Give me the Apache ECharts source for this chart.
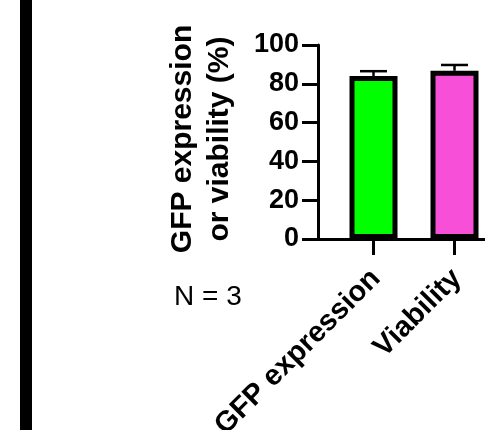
<!DOCTYPE html>
<html>
<head>
<meta charset="utf-8">
<script src="https://cdn.jsdelivr.net/npm/echarts@6/dist/echarts.min.js"></script>
<style>html,body{margin:0;padding:0;background:#fff;}#c{width:485px;height:430px;}</style>
</head>
<body>
<div id="c"></div>
<script>
const categories = ['GFP expression', 'Viability'];
const means = [84, 86.7];
const sds = [2.5, 3.0];
const barColors = ['#00FF00', '#F74FD8'];
const yTicks = { min: 0, max: 100, interval: 20 };
const yTitle = 'GFP expression\nor viability (%)';
const note = 'N = 3';

const FONT = 'Liberation Sans, Arial, sans-serif';
const chart = echarts.init(document.getElementById('c'), null, { renderer: 'canvas' });

const gridTop = 45, gridBottom = 191;
const option = {
  animation: false,
  backgroundColor: '#fff',
  grid: [
    { left: 333, right: -10, top: gridTop, bottom: gridBottom, containLabel: false, outerBoundsMode: 'none' },
    { left: 318, width: 15, top: gridTop, bottom: gridBottom, containLabel: false, outerBoundsMode: 'none' }
  ],
  xAxis: [
    {
      gridIndex: 0, type: 'category', data: categories, boundaryGap: true,
      axisLine: { show: true, lineStyle: { color: '#000', width: 3 } },
      axisTick: { show: true, alignWithLabel: true, length: 16, lineStyle: { color: '#000', width: 3 } },
      axisLabel: { rotate: 45, margin: 17, align: 'right', verticalAlign: 'top', padding: [0, 11, 0, 0], color: '#000', fontFamily: FONT, fontSize: 29, fontWeight: 'bold', interval: 0 },
      splitLine: { show: false }
    },
    {
      gridIndex: 1, type: 'value', min: 0, max: 1,
      axisLine: { show: true, lineStyle: { color: '#000', width: 3 } },
      axisTick: { show: false }, axisLabel: { show: false }, splitLine: { show: false }
    }
  ],
  yAxis: [
    { gridIndex: 0, type: 'value', min: yTicks.min, max: yTicks.max, interval: yTicks.interval, show: false, splitLine: { show: false } },
    {
      gridIndex: 1, type: 'value', min: yTicks.min, max: yTicks.max, interval: yTicks.interval,
      axisLine: { show: true, lineStyle: { color: '#000', width: 3 } },
      axisTick: { show: true, length: 16, lineStyle: { color: '#000', width: 3 } },
      axisLabel: { margin: 19, color: '#000', fontFamily: FONT, fontSize: 27, fontWeight: 'bold' },
      splitLine: { show: false },
      name: yTitle, nameLocation: 'middle', nameRotate: 90, nameGap: 80,
      nameTextStyle: { color: '#000', fontFamily: FONT, fontSize: 30, fontWeight: 'bold', lineHeight: 37, padding: [0, 0, 0, 6] }
    }
  ],
  series: [
    {
      type: 'bar', xAxisIndex: 0, yAxisIndex: 0, barWidth: 48,
      data: means.map((v, i) => ({ value: v, itemStyle: { color: barColors[i], borderColor: '#000', borderWidth: 5 } })),
      z: 2
    },
    {
      type: 'custom', xAxisIndex: 0, yAxisIndex: 0, z: 3,
      data: means.map((v, i) => [i, v, sds[i]]),
      encode: { x: 0, y: 1 },
      renderItem: function (params, api) {
        const xi = api.value(0), m = api.value(1), s = api.value(2);
        const top = api.coord([xi, m + s]);
        const base = api.coord([xi, m]);
        const hw = 13.5;
        const st = { stroke: '#000', lineWidth: 2.5 };
        return {
          type: 'group', children: [
            { type: 'line', shape: { x1: top[0], y1: base[1], x2: top[0], y2: top[1] }, style: st },
            { type: 'line', shape: { x1: top[0] - hw, y1: top[1], x2: top[0] + hw, y2: top[1] }, style: st }
          ]
        };
      }
    }
  ],
  graphic: [
    { type: 'rect', left: 20, top: 0, shape: { width: 12, height: 430 }, style: { fill: '#000' } },
    { type: 'text', x: 174, y: 297, style: { text: note, font: 'normal 28px ' + FONT, fill: '#000', verticalAlign: 'middle', align: 'left' } }
  ]
};
chart.setOption(option);
</script>
</body>
</html>
